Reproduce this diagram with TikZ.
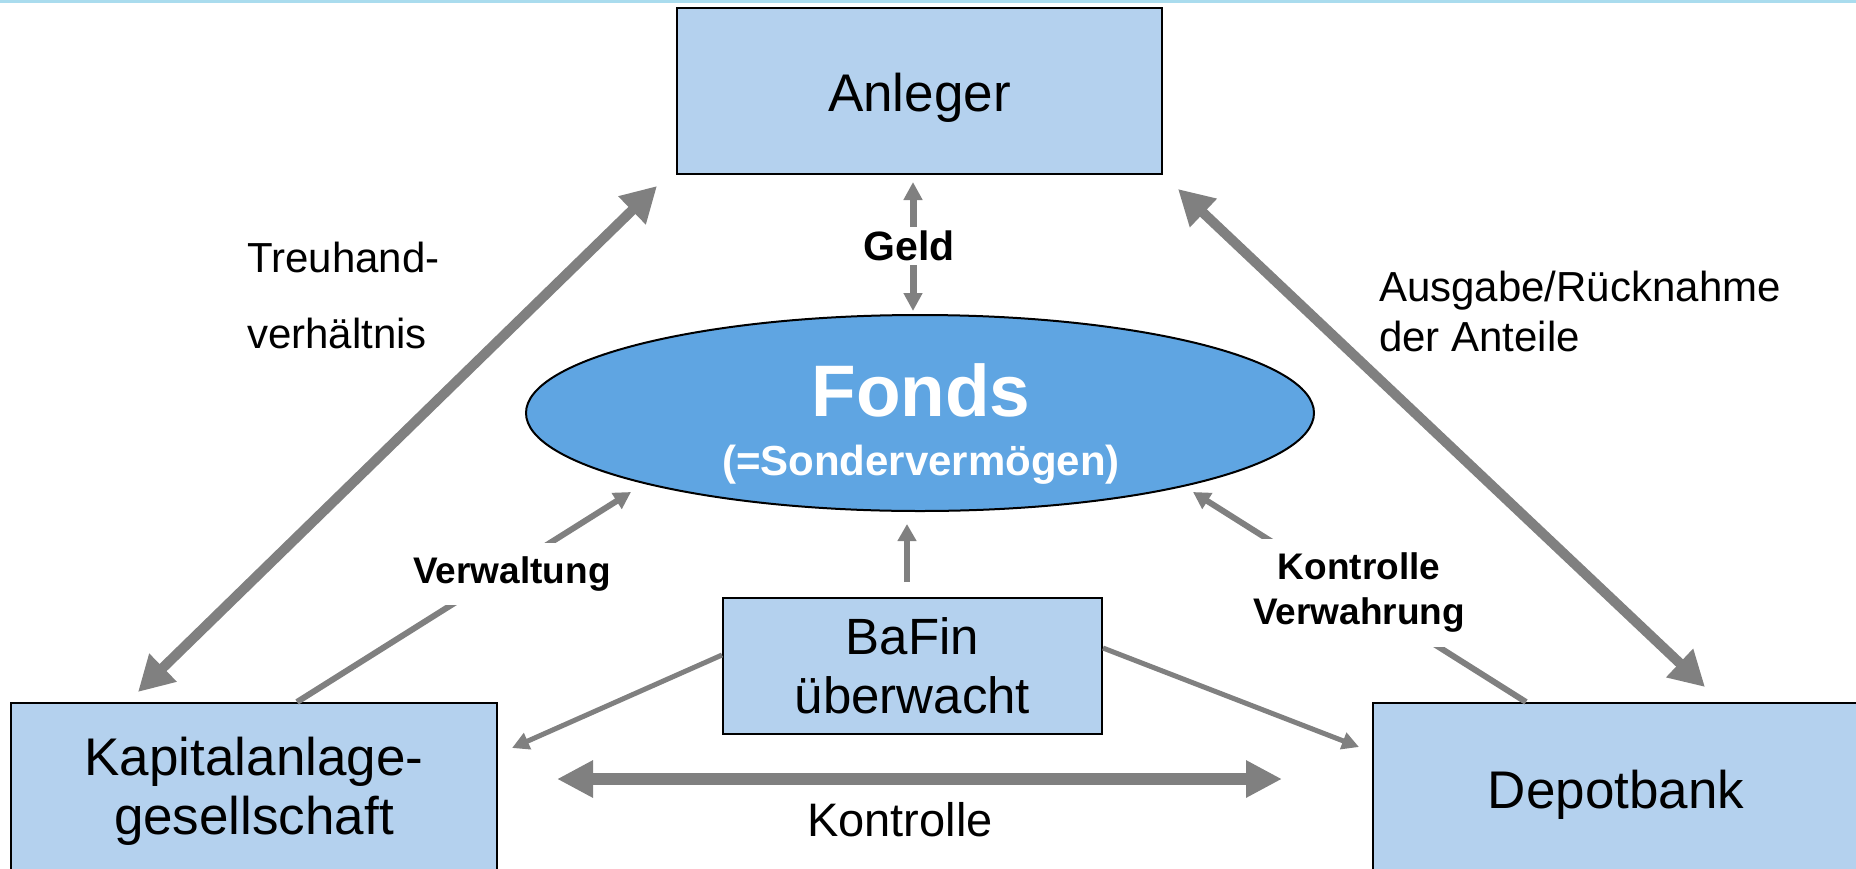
\documentclass[tikz,border=0pt]{standalone}
\usepackage{fontspec}
\setmainfont{Liberation Sans}
\usetikzlibrary{arrows.meta,shapes.geometric,calc}
\definecolor{boxblue}{RGB}{180,209,238}
\definecolor{fondsblue}{RGB}{95,165,226}
\definecolor{arrgray}{RGB}{128,128,128}
\definecolor{toplinecol}{RGB}{170,220,238}
\begin{document}
\begin{tikzpicture}[x=1pt,y=-1pt,
  box/.style={draw=black, line width=2pt, fill=boxblue, inner sep=0pt, align=center, font=\fontsize{53}{59}\selectfont},
  lbl/.style={fill=white, inner xsep=4pt, align=center},
  plain/.style={inner sep=0pt},
  bigarr/.style={draw=arrgray, line width=10pt, arrows={Triangle[width=37pt,length=35pt]-Triangle[width=37pt,length=35pt]}},
  kontrarr/.style={draw=arrgray, line width=12pt, arrows={Triangle[width=35pt,length=36pt]-Triangle[width=35pt,length=36pt]}},
  geldarr/.style={draw=arrgray, line width=7pt, arrows={Triangle[width=18pt,length=18pt]-Triangle[width=18pt,length=18pt]}},
  medarr/.style={draw=arrgray, line width=6pt, arrows={-Triangle[width=18pt,length=17pt]}},
  thinarr/.style={draw=arrgray, line width=5pt, arrows={-Triangle[width=17pt,length=17pt]}}
]
\useasboundingbox (0,0) rectangle (1856,868);
\clip (0,0) rectangle (1856,868);
\draw[toplinecol, line width=3pt] (0,1.5) -- (1856,1.5);

% main nodes
\node[box, minimum width=485pt, minimum height=166pt, text height=52pt, text depth=11pt] (anleger) at (919.5,91) {Anleger};
\node[draw=black, line width=2pt, fill=fondsblue, ellipse, minimum width=788pt, minimum height=196pt, inner sep=0pt] (fonds) at (920,413) {};
\node[plain, text=white, align=center, font=\fontsize{42}{59}\selectfont\bfseries] (fondstxt) at (921,424) {{\fontsize{73}{73}\selectfont\bfseries Fonds}\\(=Sondervermögen)};
\node[box, minimum width=379pt, minimum height=136pt, font=\fontsize{51}{59}\selectfont] (bafin) at (912.5,666) {BaFin\\überwacht};
\node[box, minimum width=486pt, minimum height=176pt] (kag) at (254,791) {Kapitalanlage-\\gesellschaft};
\node[box, minimum width=486pt, minimum height=183pt] (depot) at (1616,794.5) {Depotbank};

% free ends
\coordinate (kagTip) at (138,692);
\coordinate (anlTipL) at (657,186);
\coordinate (anlTipR) at (1178,189);
\coordinate (depTip) at (1705,687);
\coordinate (ktL) at (557,779);
\coordinate (ktR) at (1282,779);
\coordinate (geldTop) at (913,182);
\coordinate (geldBot) at (913,311);
\coordinate (vwStart) at ($(kag.north west)+(287,0)$);
\coordinate (vwTip) at (631,492);
\coordinate (kvStart) at ($(depot.north west)+(154,0)$);
\coordinate (kvTip) at (1193,492);
\coordinate (bfStart) at (907,582);
\coordinate (bfTip) at (907,524);
\coordinate (bkTip) at (512,748);
\coordinate (bdTip) at (1359,747);

% connectors
\draw[bigarr] (kagTip) -- (anlTipL);
\draw[bigarr] (anlTipR) -- (depTip);
\draw[kontrarr] (ktL) -- (ktR);
\draw[geldarr] (geldTop) -- (geldBot);
\draw[medarr] (vwStart) -- (vwTip);
\draw[medarr] (kvStart) -- (kvTip);
\draw[medarr] (bfStart) -- (bfTip);
\draw[thinarr] ([yshift=11pt]bafin.west) -- (bkTip);
\draw[thinarr] ([yshift=18pt]bafin.east) -- (bdTip);

% labels
\node[lbl, inner ysep=4pt, font=\fontsize{41}{45}\selectfont\bfseries] (geld) at (909,246) {Geld};
\node[lbl, inner ysep=14pt, font=\fontsize{37}{45}\selectfont\bfseries] (verw) at (512,574) {Verwaltung};
\node[lbl, inner ysep=14pt, font=\fontsize{37}{45}\selectfont\bfseries] (kverw) at (1359,593) {Kontrolle\\Verwahrung};
\node[plain, anchor=north west, align=left, font=\fontsize{42}{76}\selectfont] (treu) at (247,242) {Treuhand-\\verhältnis};
\node[plain, anchor=north west, align=left, font=\fontsize{42}{50}\selectfont] (ausg) at (1379,271) {Ausgabe/Rücknahme\\der Anteile};
\node[plain, anchor=base, font=\fontsize{47}{55}\selectfont] (kontr) at (900,836) {Kontrolle};
\end{tikzpicture}
\end{document}
